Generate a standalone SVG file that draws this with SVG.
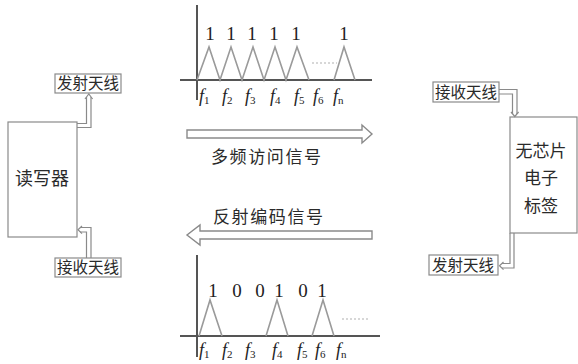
<svg xmlns="http://www.w3.org/2000/svg" width="578" height="364" viewBox="0 0 578 364">
  <style>
    .bg { fill: #ffffff; }
    .box { fill: #ffffff; stroke: #8a8a8a; stroke-width: 1.2; }
    .lbl { fill: #ffffff; stroke: #8a8a8a; stroke-width: 1.2; }
    .axis { stroke: #555; stroke-width: 2; fill: none; }
    .tri { stroke: #9a9a9a; stroke-width: 1.6; fill: none; }
    .dots { stroke: #b0b0b0; stroke-width: 1.2; stroke-dasharray: 2 2; fill: none; }
    .wire { stroke: #8a8a8a; stroke-width: 1.2; fill: none; }
    .big { fill: #ffffff; stroke: #8a8a8a; stroke-width: 1.4; stroke-linejoin: miter; }
    .cn { font-family: "Noto Sans CJK SC", "Noto Sans", sans-serif; fill: #2a2a2a; }
    .num { font-family: "Liberation Serif", serif; font-size: 19px; fill: #222; text-anchor: middle; }
    .f { font-family: "Liberation Serif", serif; font-size: 18px; font-style: italic; fill: #222; }
    .sub { font-size: 11px; font-style: normal; }
  </style>
  <rect class="bg" x="0" y="0" width="578" height="364"/>

  <!-- transmitted spectrum -->
  <g id="spectrum-top">
    <line class="axis" x1="197" y1="5" x2="197" y2="100"/>
    <line class="axis" x1="180" y1="80" x2="372" y2="80"/>
    <polyline class="tri" points="197,80 209,47 220,80 231,47 242,80 253,47 264,80 275,47 286,80 297,47 309,80"/>
    <polyline class="tri" points="334,80 344,47 355,80"/>
    <line class="dots" x1="312" y1="63" x2="337" y2="63"/>
    <g class="num">
      <text x="210" y="40">1</text>
      <text x="231" y="40">1</text>
      <text x="252" y="40">1</text>
      <text x="274" y="40">1</text>
      <text x="296" y="40">1</text>
      <text x="344" y="40">1</text>
    </g>
    <g class="f">
      <text x="199" y="102">f<tspan class="sub" dy="2">1</tspan></text>
      <text x="222" y="102">f<tspan class="sub" dy="2">2</tspan></text>
      <text x="245" y="102">f<tspan class="sub" dy="2">3</tspan></text>
      <text x="270" y="102">f<tspan class="sub" dy="2">4</tspan></text>
      <text x="294" y="102">f<tspan class="sub" dy="2">5</tspan></text>
      <text x="313" y="102">f<tspan class="sub" dy="2">6</tspan></text>
      <text x="333" y="102">f<tspan class="sub" dy="2">n</tspan></text>
    </g>
  </g>

  <!-- reflected spectrum -->
  <g id="spectrum-bottom">
    <line class="axis" x1="197" y1="255" x2="197" y2="357"/>
    <line class="axis" x1="180" y1="336" x2="380" y2="336"/>
    <polyline class="tri" points="199,336 210,300 222,336"/>
    <polyline class="tri" points="266,336 277,300 288,336"/>
    <polyline class="tri" points="312,336 323,300 334,336"/>
    <line class="dots" x1="342" y1="319" x2="368" y2="319"/>
    <g class="num">
      <text x="213" y="297">1</text>
      <text x="237" y="297">0</text>
      <text x="260" y="297">0</text>
      <text x="279" y="297">1</text>
      <text x="303" y="297">0</text>
      <text x="322" y="297">1</text>
    </g>
    <g class="f">
      <text x="199" y="356">f<tspan class="sub" dy="2">1</tspan></text>
      <text x="222" y="356">f<tspan class="sub" dy="2">2</tspan></text>
      <text x="245" y="356">f<tspan class="sub" dy="2">3</tspan></text>
      <text x="272" y="356">f<tspan class="sub" dy="2">4</tspan></text>
      <text x="297" y="356">f<tspan class="sub" dy="2">5</tspan></text>
      <text x="315" y="356">f<tspan class="sub" dy="2">6</tspan></text>
      <text x="336" y="356">f<tspan class="sub" dy="2">n</tspan></text>
    </g>
  </g>

  <!-- reader -->
  <g id="reader">
    <rect class="box" x="8" y="122" width="69" height="115"/>
    <text class="cn" x="42" y="185" font-size="18" text-anchor="middle">读写器</text>
  </g>
  <g id="reader-tx-antenna">
    <rect class="lbl" x="55" y="74" width="66" height="19"/>
    <text class="cn" x="88" y="89" font-size="15.5" text-anchor="middle">发射天线</text>
  </g>
  <g id="reader-rx-antenna">
    <rect class="lbl" x="55" y="258" width="66" height="19"/>
    <text class="cn" x="88" y="273" font-size="15.5" text-anchor="middle">接收天线</text>
  </g>

  <!-- chipless tag -->
  <g id="tag">
    <rect class="box" x="510" y="117" width="67" height="116"/>
    <text class="cn" x="541" y="157" font-size="17" text-anchor="middle">无芯片</text>
    <text class="cn" x="541" y="184" font-size="17" text-anchor="middle">电子</text>
    <text class="cn" x="541" y="212" font-size="17" text-anchor="middle">标签</text>
  </g>
  <g id="tag-rx-antenna">
    <rect class="lbl" x="433" y="82" width="66" height="20"/>
    <text class="cn" x="466" y="98" font-size="15.5" text-anchor="middle">接收天线</text>
  </g>
  <g id="tag-tx-antenna">
    <rect class="lbl" x="429" y="255" width="69" height="20"/>
    <text class="cn" x="463" y="271" font-size="15.5" text-anchor="middle">发射天线</text>
  </g>

  <!-- signal labels -->
  <text class="cn" x="211" y="163" font-size="17" letter-spacing="1.6">多频访问信号</text>
  <text class="cn" x="213" y="223" font-size="17" letter-spacing="1.6">反射编码信号</text>

  <g id="connectors">
    <!-- wide hollow arrows -->
    <path class="big" d="M187,130 L362,130 L362,125 L372,134 L362,143 L362,138 L187,138 Z"/>
    <path class="big" d="M372,231 L200,231 L200,225 L187,235 L200,245 L200,239 L372,239 Z"/>
    <!-- reader to its transmit antenna -->
    <path class="wire" d="M77,123.5 L86.5,123.5 L86.5,97"/>
    <path class="wire" d="M77,127.5 L91,127.5 L91,97"/>
    <path class="wire" d="M85,99 L88.8,94 L92.6,99"/>
    <!-- receive antenna to reader -->
    <path class="wire" d="M86.5,258 L86.5,232 L80,232"/>
    <path class="wire" d="M91,258 L91,227.5 L80,227.5"/>
    <path class="wire" d="M82,226 L78,229.8 L82,233.6"/>
    <!-- tag receive antenna to tag -->
    <path class="wire" d="M499,89.5 L517,89.5 L517,114"/>
    <path class="wire" d="M499,94 L512.5,94 L512.5,114"/>
    <path class="wire" d="M511,112 L514.8,116.5 L518.6,112"/>
    <!-- tag to its transmit antenna -->
    <path class="wire" d="M514,233 L514,268 L502,268"/>
    <path class="wire" d="M510,233 L510,263.5 L502,263.5"/>
    <path class="wire" d="M503.5,262 L499.5,265.8 L503.5,269.6"/>
  </g>
</svg>
